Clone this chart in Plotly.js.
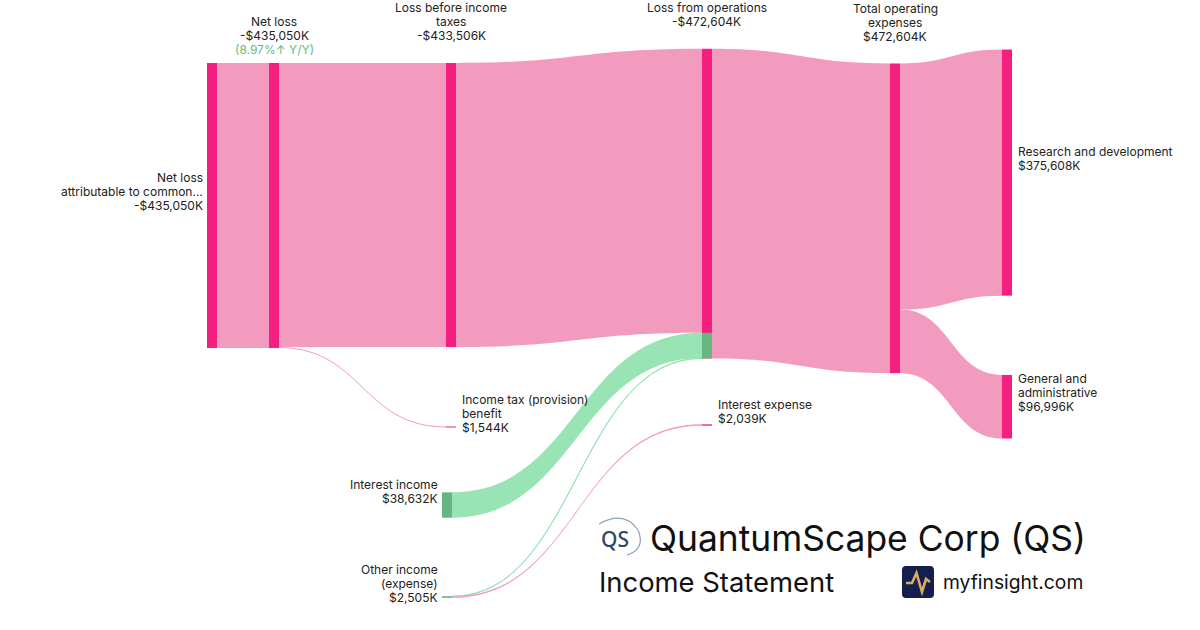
<!DOCTYPE html>
<html>
<head>
<meta charset="utf-8">
<script src="https://cdn.plot.ly/plotly-3.0.1.min.js"></script>
<style>
html,body{margin:0;padding:0;background:#ffffff;}
#chart{width:1200px;height:630px;}
</style>
</head>
<body>
<div id="chart"></div>
<script>
// ---------------- DATA ----------------
const nodeNames = [
  "Net loss|attributable to common...",
  "Net loss",
  "Loss before income|taxes",
  "Income tax (provision)|benefit",
  "Interest income",
  "Other income|(expense)",
  "Loss from operations",
  "Interest expense",
  "Total operating|expenses",
  "Research and development",
  "General and|administrative"
];
const nodeAmounts = [-435050, -435050, -433506, 1544, 38632, 2505, -472604, 2039, 472604, 375608, 96996];
const incomeNodes = [4, 5];
const linkSources = [0, 1, 1, 2, 4, 5, 5, 6, 8, 8];
const linkTargets = [1, 2, 3, 6, 6, 6, 7, 8, 9, 10];
const linkValues  = [435050, 433506, 1544, 433506, 38632, 466, 2039, 472604, 375608, 96996];
const yoyText = "(8.97%\u2191 Y/Y)";
const titleCompany = "QuantumScape Corp (QS)";
const titleStatement = "Income Statement";
const brandText = "myfinsight.com";

// ---------------- LAYOUT / STYLE ----------------
const W = 1200, H = 630, PAD = 106, THICK = 10;
const nodeCX = [212, 274, 451, 451, 447, 447, 707, 707, 895, 1007, 1007];
const nodeCY = [205.5, 205.5, 205, 427, 505, 597, 203.6, 425, 218.3, 172.6, 406.7];
const labelSide = ['left', 'top', 'top', 'right', 'left', 'left', 'top', 'right', 'top', 'right', 'right'];
const PINK_NODE = '#F41F7F', PINK_LINK = '#F39BBE';
const GREEN_NODE = '#66B77F', GREEN_LINK = '#98E4B4';
const TEXT = '#222222', FONT = 'Inter, "Noto Sans", sans-serif';

const n = nodeNames.length;
const inSum = new Array(n).fill(0), outSum = new Array(n).fill(0);
linkValues.forEach((v, k) => { outSum[linkSources[k]] += v; inSum[linkTargets[k]] += v; });
const nodeVal = inSum.map((v, i) => Math.max(v, outSum[i]));

// same scaling rule as the sankey layout (sink column / source column)
const sinks = [], sources = [];
for (let i = 0; i < n; i++) { if (outSum[i] === 0) sinks.push(i); if (inSum[i] === 0) sources.push(i); }
const colKy = idx => (H - (idx.length - 1) * PAD) / idx.reduce((s, i) => s + nodeVal[i], 0);
let ky = Math.min(colKy(sinks), colKy(sources));
nodeVal.forEach(v => { ky = Math.min(ky, H / v); });

const fmt = v => (v < 0 ? '-' : '') + '$' + Math.abs(v).toLocaleString('en-US') + 'K';
const px = x => x / W, py = y => 1 - y / H;

const nodeColors = nodeNames.map((_, i) => incomeNodes.includes(i) ? GREEN_NODE : PINK_NODE);
const linkColors = linkSources.map(s => incomeNodes.includes(s) ? GREEN_LINK : PINK_LINK);
// other income -> interest expense is a cost flow
linkTargets.forEach((t, k) => { if (t === 7) linkColors[k] = PINK_LINK; });

const annotations = [];
function addLine(text, x, y, xanchor, color, size) {
  annotations.push({
    text: text, x: px(x), y: py(y), xref: 'paper', yref: 'paper',
    xanchor: xanchor, yanchor: 'middle', showarrow: false, align: xanchor,
    font: {family: FONT, size: size || 12, color: color || TEXT}
  });
}
const LH = 14;
for (let i = 0; i < n; i++) {
  const lines = nodeNames[i].split('|').concat([fmt(nodeAmounts[i])]);
  const h = nodeVal[i] * ky;
  const top = nodeCY[i] - h / 2;
  if (labelSide[i] === 'top') {
    const last = top - 27;
    lines.forEach((t, k) => addLine(t, nodeCX[i], last - (lines.length - 1 - k) * LH, 'center'));
    if (i === 1) addLine(yoyText, nodeCX[i], last + LH, 'center', '#62BD80');
  } else {
    const c = nodeCY[i] - 14;
    const first = c - (lines.length - 1) / 2 * LH;
    const onLeft = labelSide[i] === 'left';
    const x = onLeft ? nodeCX[i] - THICK / 2 - 2 : nodeCX[i] + THICK / 2 + 4;
    lines.forEach((t, k) => addLine(t, x, first + k * LH, onLeft ? 'right' : 'left'));
  }
}

// branding texts
annotations.push({text: 'QS', x: px(615), y: py(539), xref: 'paper', yref: 'paper', xanchor: 'center', yanchor: 'middle', showarrow: false,
  font: {family: '"Noto Sans", Inter, sans-serif', size: 21, color: '#2B4A64', weight: 500}});
annotations.push({text: titleCompany, x: px(648), y: py(538), xref: 'paper', yref: 'paper', xanchor: 'left', yanchor: 'middle', showarrow: false,
  font: {family: FONT, size: 35.4, color: '#111111'}});
annotations.push({text: titleStatement, x: px(597), y: py(582), xref: 'paper', yref: 'paper', xanchor: 'left', yanchor: 'middle', showarrow: false,
  font: {family: FONT, size: 27.4, color: '#111111'}});
annotations.push({text: brandText, x: px(941), y: py(582), xref: 'paper', yref: 'paper', xanchor: 'left', yanchor: 'middle', showarrow: false,
  font: {family: FONT, size: 19.3, color: '#111111'}});

// shapes
const P = (x, y) => px(x).toFixed(5) + ',' + py(y).toFixed(5);
const shapes = [];
// green share of the node fed by income flows (derived from data)
{
  const t = 6;
  let greenVal = 0;
  linkTargets.forEach((tt, k) => { if (tt === t && incomeNodes.includes(linkSources[k])) greenVal += linkValues[k]; });
  const bottom = nodeCY[t] + nodeVal[t] * ky / 2;
  shapes.push({type: 'rect', xref: 'paper', yref: 'paper', layer: 'above',
    x0: px(nodeCX[t] - THICK / 2), x1: px(nodeCX[t] + THICK / 2), y0: py(bottom), y1: py(bottom - greenVal * ky),
    fillcolor: GREEN_NODE, line: {width: 0}});
}
// QS logo swoosh
shapes.push({type: 'path', xref: 'paper', yref: 'paper', layer: 'above',
  path: 'M' + P(599, 524) + ' Q' + P(624, 510) + ' ' + P(638, 530) + ' Q' + P(646, 549) + ' ' + P(627, 555),
  line: {color: '#8FA2B4', width: 1.2}});
// myfinsight icon
{
  const x0 = 902, y0 = 566, x1 = 934, y1 = 598, r = 4;
  shapes.push({type: 'path', xref: 'paper', yref: 'paper', layer: 'above',
    path: 'M' + P(x0 + r, y0) + ' L' + P(x1 - r, y0) + ' Q' + P(x1, y0) + ' ' + P(x1, y0 + r) + ' L' + P(x1, y1 - r) + ' Q' + P(x1, y1) + ' ' + P(x1 - r, y1) +
          ' L' + P(x0 + r, y1) + ' Q' + P(x0, y1) + ' ' + P(x0, y1 - r) + ' L' + P(x0, y0 + r) + ' Q' + P(x0, y0) + ' ' + P(x0 + r, y0) + ' Z',
    fillcolor: '#13204B', line: {width: 0}});
  shapes.push({type: 'path', xref: 'paper', yref: 'paper', layer: 'above',
    path: 'M' + P(906, 583) + ' L' + P(912, 583) + ' L' + P(916.5, 573) + ' L' + P(922, 592) + ' L' + P(926, 579) + ' L' + P(930, 582),
    line: {color: '#DDAC62', width: 2.6}});
}

const trace = {
  type: 'sankey',
  arrangement: 'fixed',
  domain: {x: [0, 1], y: [0, 1]},
  node: {
    label: nodeNames.map(() => ''),
    customdata: nodeNames.map(s => s.replace('|', ' ')),
    hovertemplate: '%{customdata}<extra></extra>',
    x: nodeCX.map(v => v / W),
    y: nodeCY.map(v => v / H),
    pad: PAD,
    thickness: THICK,
    color: nodeColors,
    line: {width: 0}
  },
  link: {
    source: linkSources,
    target: linkTargets,
    value: linkValues,
    color: linkColors,
    line: {width: 0}
  }
};

Plotly.newPlot('chart', [trace], {
  width: W, height: H,
  margin: {l: 0, r: 0, t: 0, b: 0},
  paper_bgcolor: '#ffffff',
  font: {family: FONT, color: TEXT},
  showlegend: false,
  annotations: annotations,
  shapes: shapes
}, {displayModeBar: false, staticPlot: true});
</script>
</body>
</html>
